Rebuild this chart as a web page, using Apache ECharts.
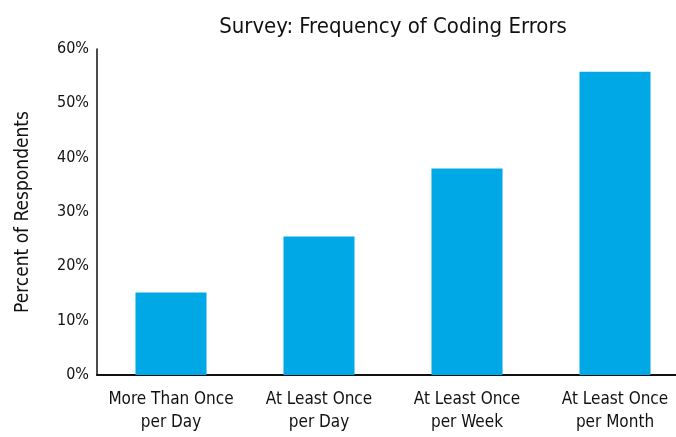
<!DOCTYPE html>
<html>
<head>
<meta charset="utf-8">
<script src="https://cdn.jsdelivr.net/npm/echarts@6/dist/echarts.min.js"></script>
<style>
    html, body { margin: 0; padding: 0; background: #fff; }
    #chart { width: 676px; height: 437px; }
</style>
</head>
<body>
<div id="chart"></div>
<script type="text/javascript">
    var categories = ['More Than Once\nper Day', 'At Least Once\nper Day', 'At Least Once\nper Week', 'At Least Once\nper Month'];
    var percents = [15.2, 25.5, 38, 55.8];
    var yTicks = [0, 10, 20, 30, 40, 50, 60];

    var fontName = "'DejaVu Sans Condensed', sans-serif";

    var chart = echarts.init(document.getElementById('chart'));
    chart.setOption({
        animation: false,
        color: ['#00a9e6'],
        title: {
            text: 'Survey: Frequency of Coding Errors',
            left: 388,
            textAlign: 'center',
            top: 11,
            textStyle: { fontFamily: fontName, fontSize: 22, fontWeight: 'normal', color: '#111' }
        },
        grid: { left: 97, right: -13, top: 49, bottom: 62, outerBoundsMode: 'none' },
        xAxis: {
            type: 'category',
            data: categories,
            axisLine: { lineStyle: { color: '#111', width: 2 } },
            axisTick: { show: false },
            axisLabel: {
                fontFamily: fontName, fontSize: 17, color: '#111',
                lineHeight: 23, margin: 13, interval: 0
            }
        },
        yAxis: {
            type: 'value',
            min: yTicks[0],
            max: yTicks[yTicks.length - 1],
            interval: 10,
            name: 'Percent of Respondents',
            nameLocation: 'middle',
            nameGap: 64,
            nameTextStyle: { fontFamily: fontName, fontSize: 19, color: '#111' },
            axisLine: { show: true, lineStyle: { color: '#111', width: 1.5 } },
            axisTick: { show: false },
            splitLine: { show: false },
            axisLabel: {
                fontFamily: fontName, fontSize: 16, color: '#111', margin: 8,
                formatter: '{value}%', padding: [0, 0, 6, 0]
            }
        },
        series: [{
            type: 'bar',
            data: percents,
            barWidth: '48%'
        }]
    });
</script>
</body>
</html>
